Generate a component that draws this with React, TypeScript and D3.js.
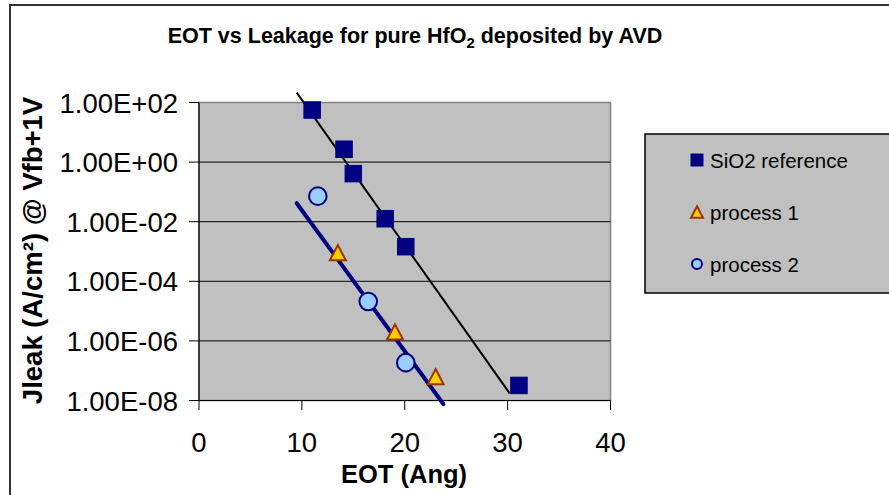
import React from "react";
import * as d3 from "d3";

// values (EOT in Angstrom, Jleak in A/cm2)
const sio2Eot = [11, 14.1, 15, 18.1, 20.1, 31.1];
const sio2Jleak = [56, 2.7, 0.41, 0.0126, 0.00145, 3.2e-8];
const p1Eot = [13.5, 19.05, 23.0];
const p1Jleak = [9.1e-4, 2.0e-6, 6.3e-8];
const p2Eot = [11.55, 16.45, 20.1];
const p2Jleak = [0.072, 2.1e-5, 1.86e-7];

// trend lines (end points)
const sio2TrendEot = [9.5, 30.2];
const sio2TrendJleak = [214, 1.74e-8];
const p2TrendEot = [9.5, 23.75];
const p2TrendJleak = [0.0417, 7.6e-9];

const xTicks = [0, 10, 20, 30, 40];
const yTicks = [1e2, 1, 1e-2, 1e-4, 1e-6, 1e-8];
const legendLabels = ["SiO2 reference", "process 1", "process 2"];

const FONT = "'Liberation Sans', Arial, sans-serif";
const NAVY = "#000080";

const fmtSci = (v: number) => {
  const e = Math.round(Math.log10(v));
  const sign = e < 0 ? "-" : "+";
  const abs = Math.abs(e);
  return "1.00E" + sign + (abs < 10 ? "0" + abs : "" + abs);
};

const Square = ({ cx, cy, s }: { cx: number; cy: number; s: number }) => (
  <rect x={cx - s / 2} y={cy - s / 2} width={s} height={s} fill={NAVY} stroke={NAVY} strokeWidth={1} />
);

const Triangle = ({ cx, cy, s }: { cx: number; cy: number; s: number }) => {
  const h = s * 0.95;
  const pts = [
    [cx, cy - h / 2],
    [cx + s / 2, cy + h / 2],
    [cx - s / 2, cy + h / 2],
  ];
  return (
    <polygon
      points={pts.map((p) => p.join(",")).join(" ")}
      fill="#FFCC00"
      stroke="#993300"
      strokeWidth={2}
      strokeLinejoin="miter"
    />
  );
};

const Circle = ({ cx, cy, r }: { cx: number; cy: number; r: number }) => (
  <circle cx={cx} cy={cy} r={r} fill="#99CCFF" stroke={NAVY} strokeWidth={2} />
);

export default function App() {
  const x = d3.scaleLinear().domain([0, 40]).range([199, 610.5]);
  const y = d3.scaleLog().domain([1e-8, 1e2]).range([400.5, 102.5]);

  const left = x(0);
  const right = x(40);
  const top = y(1e2);
  const bottom = y(1e-8);

  const line = d3
    .line<[number, number]>()
    .x((d) => x(d[0]))
    .y((d) => y(d[1]));

  const sio2Trend = sio2TrendEot.map((e, i) => [e, sio2TrendJleak[i]] as [number, number]);
  const p2Trend = p2TrendEot.map((e, i) => [e, p2TrendJleak[i]] as [number, number]);

  return (
    <svg
      width={889}
      height={495}
      style={{ position: "absolute", left: 0, top: 0, background: "#fff" }}
      fontFamily={FONT}
    >
      {/* outer chart frame */}
      <rect x={10} y={5} width={900} height={520} fill="#fff" stroke="#333" strokeWidth={2} />

      {/* title */}
      <text x={415} y={43} textAnchor="middle" fontSize={21.5} fontWeight="bold" fill="#000">
        EOT vs Leakage for pure HfO
        <tspan fontSize={15} dy={5}>2</tspan>
        <tspan dy={-5}> deposited by AVD</tspan>
      </text>

      {/* plot area */}
      <rect x={left} y={top} width={right - left} height={bottom - top} fill="#C0C0C0" stroke="#808080" strokeWidth={1.5} />

      {/* gridlines */}
      {yTicks
        .filter((t) => t < 1e2 && t > 1e-8)
        .map((t) => (
          <line key={"g" + t} x1={left} x2={right} y1={y(t)} y2={y(t)} stroke="#000" strokeWidth={1} />
        ))}

      {/* axes */}
      <line x1={left} x2={left} y1={top} y2={bottom} stroke="#000" strokeWidth={1.2} />
      <line x1={left} x2={right} y1={bottom} y2={bottom} stroke="#000" strokeWidth={1.2} />

      {yTicks.map((t) => (
        <g key={"y" + t}>
          <line x1={left - 10} x2={left} y1={y(t)} y2={y(t)} stroke="#000" strokeWidth={1} />
          <text x={178} y={y(t) + 10} textAnchor="end" fontSize={27.5} fill="#000">
            {fmtSci(t)}
          </text>
        </g>
      ))}

      {xTicks.map((t) => (
        <g key={"x" + t}>
          <line x1={x(t)} x2={x(t)} y1={bottom} y2={bottom + 9.5} stroke="#000" strokeWidth={1} />
          <text x={x(t)} y={452} textAnchor="middle" fontSize={27.5} fill="#000">
            {t}
          </text>
        </g>
      ))}

      {/* axis titles */}
      <text x={404} y={483} textAnchor="middle" fontSize={25.5} fontWeight="bold" fill="#000">
        EOT (Ang)
      </text>
      <text
        transform={`translate(42, 250.5) rotate(-90)`}
        textAnchor="middle"
        fontSize={27.5}
        fontWeight="bold"
        fill="#000"
      >
        Jleak (A/cm²) @ Vfb+1V
      </text>

      {/* trend lines */}
      <path d={line(sio2Trend) || ""} fill="none" stroke="#000" strokeWidth={2} />
      <path d={line(p2Trend) || ""} fill="none" stroke={NAVY} strokeWidth={4} strokeLinecap="round" />

      {/* series */}
      {sio2Eot.map((e, i) => (
        <Square key={"s" + i} cx={x(e)} cy={y(sio2Jleak[i])} s={16.5} />
      ))}
      {p1Eot.map((e, i) => (
        <Triangle key={"t" + i} cx={x(e)} cy={y(p1Jleak[i])} s={16} />
      ))}
      {p2Eot.map((e, i) => (
        <Circle key={"c" + i} cx={x(e)} cy={y(p2Jleak[i])} r={8.8} />
      ))}

      {/* legend */}
      <rect x={645} y={134} width={260} height={159} fill="#C0C0C0" stroke="#000" strokeWidth={1.5} />
      {legendLabels.map((lab, i) => {
        const cy = 160 + i * 52;
        return (
          <g key={lab}>
            {i === 0 && <Square cx={697} cy={cy} s={12} />}
            {i === 1 && <Triangle cx={697} cy={cy} s={12} />}
            {i === 2 && <Circle cx={697} cy={cy} r={5} />}
            <text x={710} y={cy + 7.5} fontSize={20.5} fill="#000">
              {lab}
            </text>
          </g>
        );
      })}
    </svg>
  );
}
